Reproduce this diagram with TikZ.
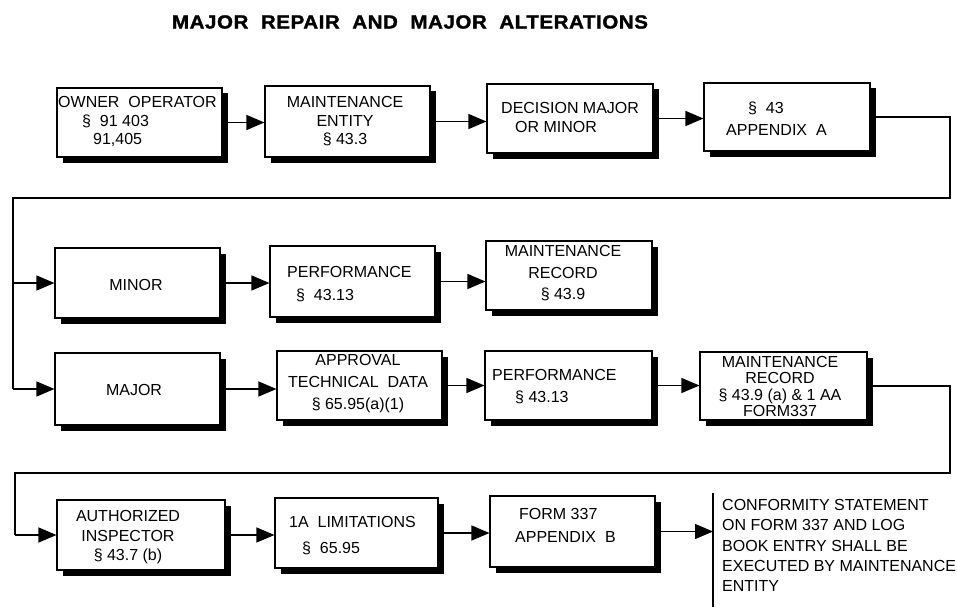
\documentclass[tikz,border=0pt]{standalone}
\usepackage{fontspec}
\setmainfont{Liberation Sans}
\newfontfamily\titlefont{Liberation Sans}[FakeStretch=1.08,LetterSpace=3,FakeBold=1.5]
\usetikzlibrary{arrows.meta,shadows}

\newcommand\fsz[1]{\fontsize{16}{#1}\selectfont}

\tikzset{
  box/.style={draw, line width=1.1pt, fill=white, inner sep=0pt,
    drop shadow={shadow xshift=5.5pt, shadow yshift=-5.5pt, fill=black, opacity=1}},
  txt/.style={inner sep=0pt, font=\fsz{19}},
  lft/.style={txt, anchor=west, align=left},
  ctr/.style={txt, align=center},
  arr/.style={-{Triangle[length=18pt,width=15pt]}, line width=1.3pt},
  corr/.style={line width=2.3pt},
}

\begin{document}
\begin{tikzpicture}[x=1pt,y=-1pt]
\useasboundingbox[fill=white] (0,0) rectangle (957,607);

% heading
\node[font=\titlefont\bfseries\fontsize{19}{21}\selectfont, inner sep=0pt] (title) at (410,22)
  {MAJOR\ \ REPAIR\ \ AND\ \ MAJOR\ \ ALTERATIONS};

% first row
\node[box, minimum width=165pt, minimum height=69pt] (own)   at (139.5,122.5) {};
\node[box, minimum width=165pt, minimum height=71pt] (ent)   at (347.5,121.5) {};
\node[box, minimum width=166pt, minimum height=69pt] (dec)   at (570,118.5) {};
\node[box, minimum width=166pt, minimum height=68pt] (app)   at (787,117) {};
% minor branch
\node[box, minimum width=165pt, minimum height=70pt] (minor) at (137.5,283) {};
\node[box, minimum width=165pt, minimum height=71pt] (perfa) at (352.5,281.5) {};
\node[box, minimum width=166pt, minimum height=69pt] (reca)  at (569,275.5) {};
% major branch
\node[box, minimum width=165pt, minimum height=72pt] (major) at (137.5,389) {};
\node[box, minimum width=165pt, minimum height=69pt] (appr)  at (359.5,385.5) {};
\node[box, minimum width=167pt, minimum height=69pt] (perfb) at (568.5,385.5) {};
\node[box, minimum width=167pt, minimum height=68pt] (recb)  at (783.5,386) {};
% inspection row
\node[box, minimum width=168pt, minimum height=70pt] (auth)  at (141,535) {};
\node[box, minimum width=163pt, minimum height=70pt] (ia)    at (356.5,533) {};
\node[box, minimum width=165pt, minimum height=71pt] (form)  at (572.5,531.5) {};

% box texts
\node[lft, font=\fsz{18.5}] (own-t) at (58,121.5)
  {OWNER\ \ OPERATOR\\\hspace*{24pt}\S\ \ 91 403\\\hspace*{35pt}91,405};
\node[ctr, font=\fsz{18.5}] (ent-t) at (345,121.5) {MAINTENANCE\\ENTITY\\\S\ 43.3};
\node[lft] (dec-t) at (501,117.5) {DECISION MAJOR\\\hspace*{14pt}OR MINOR};
\node[lft, font=\fsz{22}] (app-t) at (726,119) {\hspace*{22pt}\S\ \ 43\\APPENDIX\ \ A};
\node[ctr] (minor-t) at (136,285) {MINOR};
\node[lft, font=\fsz{23}] (perfa-t) at (287,284.5) {PERFORMANCE\\\hspace*{9pt}\S\ \ 43.13};
\node[ctr, font=\fsz{21.5}] (reca-t) at (563,273.5) {MAINTENANCE\\RECORD\\\S\ 43.9};
\node[ctr] (major-t) at (134,390) {MAJOR};
\node[ctr, font=\fsz{22}] (appr-t) at (358,384) {APPROVAL\\TECHNICAL\ \ DATA\\\S\ 65.95(a)(1)};
\node[lft, font=\fsz{22}] (perfb-t) at (492,387) {PERFORMANCE\\\hspace*{23pt}\S\ 43.13};
\node[ctr, font=\fsz{16.5}] (recb-t) at (780,386.5)
  {MAINTENANCE\\RECORD\\\S\ 43.9 (a) \& 1 AA\\FORM337};
\node[ctr, font=\fsz{19.5}] (auth-t) at (128,537.5) {AUTHORIZED\\INSPECTOR\\\S\ 43.7 (b)};
\node[lft, font=\fsz{26}] (ia-t) at (289,536) {1A\ \ LIMITATIONS\\\hspace*{13pt}\S\ \ 65.95};
\node[lft, font=\fsz{23}] (form-t) at (515,525.5) {\hspace*{4pt}FORM 337\\APPENDIX\ \ B};

% closing statement
\draw[line width=2pt] (713,493) -- (713,607);
\coordinate (bar) at (713,531.5);
\node[lft, font=\fsz{20.3}] (conf-t) at (722,545.5)
  {CONFORMITY STATEMENT\\ON FORM 337 AND LOG\\BOOK ENTRY SHALL BE\\EXECUTED BY MAINTENANCE\\ENTITY};

% routing corners
\coordinate (k1) at (950,198);
\coordinate (k2) at (13,198);
\coordinate (k3) at (950,473);
\coordinate (k4) at (15,473);

% connectors
\draw[arr] (own.east)   -- (own.east -| ent.west);
\draw[arr] (ent.east)   -- (ent.east -| dec.west);
\draw[arr] (dec.east)   -- (dec.east -| app.west);
\draw[corr] (app.east) -| (k1) -- (k2) -- (k2 |- major.west);
\draw[arr] (k2 |- minor.west) -- (minor.west);
\draw[arr] (k2 |- major.west) -- (major.west);
\draw[arr] (minor.east) -- (minor.east -| perfa.west);
\draw[arr] (perfa.east) -- (perfa.east -| reca.west);
\draw[arr] (major.east) -- (major.east -| appr.west);
\draw[arr] (appr.east)  -- (appr.east -| perfb.west);
\draw[arr] (perfb.east) -- (perfb.east -| recb.west);
\draw[corr] (recb.east) -| (k3) -- (k4) -- (k4 |- auth.west);
\draw[arr] (k4 |- auth.west) -- (auth.west);
\draw[arr] (auth.east)  -- (auth.east -| ia.west);
\draw[arr] (ia.east)    -- (ia.east -| form.west);
\draw[arr] (form.east)  -- (bar);
\end{tikzpicture}
\end{document}
